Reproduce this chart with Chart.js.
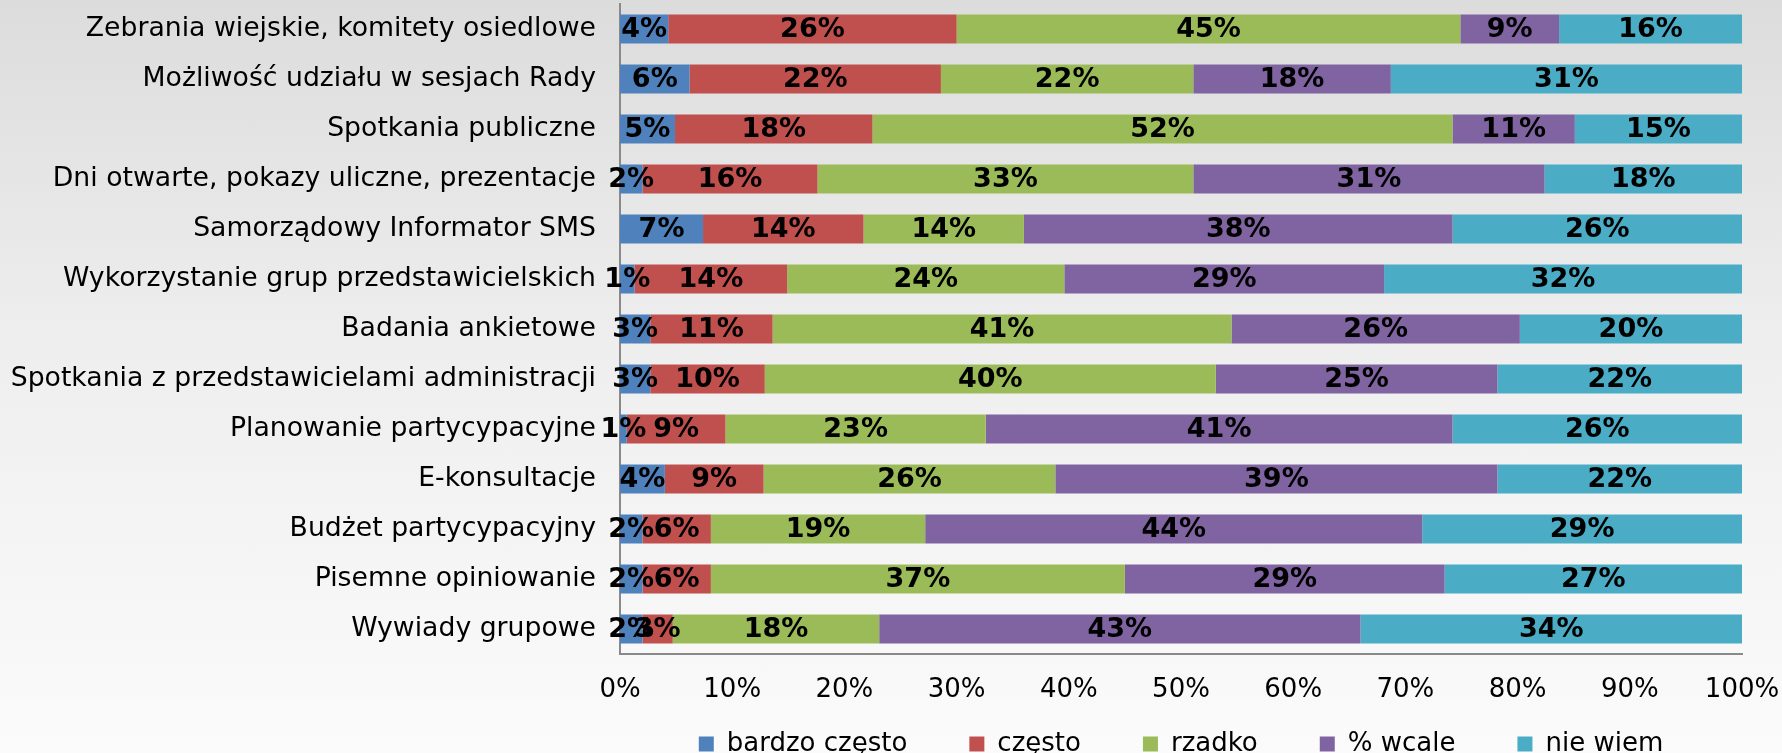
<!DOCTYPE html>
<html>
<head>
<meta charset="utf-8">
<script src="https://cdn.jsdelivr.net/npm/chart.js@4/dist/chart.umd.min.js"></script>
<style>
    html, body { margin: 0; padding: 0; overflow: hidden; height: 753px; }
    body { background: linear-gradient(to bottom, #dcdcdc 0%, #eeeeee 45%, #fbfbfb 100%); }
    #wrap { position: relative; width: 1782px; height: 767px; }
</style>
</head>
<body>
<div id="wrap"><canvas id="chart"></canvas></div>
<script>
const categories = [
    'Zebrania wiejskie, komitety osiedlowe',
    'Możliwość udziału w sesjach Rady',
    'Spotkania publiczne',
    'Dni otwarte, pokazy uliczne, prezentacje',
    'Samorządowy Informator SMS',
    'Wykorzystanie grup przedstawicielskich',
    'Badania ankietowe',
    'Spotkania z przedstawicielami administracji',
    'Planowanie partycypacyjne',
    'E-konsultacje',
    'Budżet partycypacyjny',
    'Pisemne opiniowanie',
    'Wywiady grupowe'
];

// segment shares as drawn
const bardzoCzesto = [4.3, 6.2, 4.9, 2.0, 7.4, 1.3, 2.7, 2.7, 0.6, 4.0, 2.0, 2.0, 2.0];
const czesto = [25.7, 22.4, 17.6, 15.6, 14.3, 13.6, 10.9, 10.2, 8.8, 8.8, 6.1, 6.1, 2.7];
const rzadko = [44.9, 22.5, 51.7, 33.5, 14.3, 24.7, 40.9, 40.2, 23.2, 26.0, 19.1, 36.9, 18.4];
const wcale = [8.8, 17.6, 10.9, 31.3, 38.2, 28.5, 25.7, 25.1, 41.6, 39.4, 44.3, 28.5, 42.9];
const nieWiem = [16.3, 31.3, 14.9, 17.6, 25.8, 31.9, 19.8, 21.8, 25.8, 21.8, 28.5, 26.5, 34.0];

// printed percentages
const bardzoCzestoLbl = [4, 6, 5, 2, 7, 1, 3, 3, 1, 4, 2, 2, 2];
const czestoLbl = [26, 22, 18, 16, 14, 14, 11, 10, 9, 9, 6, 6, 3];
const rzadkoLbl = [45, 22, 52, 33, 14, 24, 41, 40, 23, 26, 19, 37, 18];
const wcaleLbl = [9, 18, 11, 31, 38, 29, 26, 25, 41, 39, 44, 29, 43];
const nieWiemLbl = [16, 31, 15, 18, 26, 32, 20, 22, 26, 22, 29, 27, 34];

const seriesNames = ['bardzo często', 'często', 'rzadko', '% wcale', 'nie wiem'];
const xTicks = [0, 10, 20, 30, 40, 50, 60, 70, 80, 90, 100];

const FONT = '"DejaVu Sans", Verdana, sans-serif';

const series = [
    { label: seriesNames[0], data: bardzoCzesto, labels: bardzoCzestoLbl, color: '#4f81bd' },
    { label: seriesNames[1], data: czesto, labels: czestoLbl, color: '#c0504d' },
    { label: seriesNames[2], data: rzadko, labels: rzadkoLbl, color: '#9bbb59' },
    { label: seriesNames[3], data: wcale, labels: wcaleLbl, color: '#8064a2' },
    { label: seriesNames[4], data: nieWiem, labels: nieWiemLbl, color: '#4bacc6' }
];

// draws the percentage in the middle of every segment
const segmentLabels = {
    id: 'segmentLabels',
    afterDatasetsDraw(chart) {
        const ctx = chart.ctx;
        ctx.save();
        ctx.font = 'bold 27px ' + FONT;
        ctx.fillStyle = '#000';
        ctx.textAlign = 'center';
        ctx.textBaseline = 'middle';
        chart.data.datasets.forEach((ds, di) => {
            const meta = chart.getDatasetMeta(di);
            meta.data.forEach((bar, i) => {
                const cx = (bar.x + bar.base) / 2;
                ctx.fillText(ds.printed[i] + '%', cx, bar.y + 1);
            });
        });
        ctx.restore();
    }
};

new Chart(document.getElementById('chart'), {
    type: 'bar',
    data: {
        labels: categories,
        datasets: series.map(s => ({
            label: s.label,
            data: s.data,
            printed: s.labels,
            backgroundColor: s.color,
            borderWidth: 0,
            categoryPercentage: 1,
            barPercentage: 0.58
        }))
    },
    options: {
        indexAxis: 'y',
        responsive: true,
        maintainAspectRatio: false,
        animation: false,
        layout: { padding: { left: 0, right: 40, top: 4, bottom: 0 } },
        scales: {
            x: {
                stacked: true,
                min: 0,
                max: 100,
                grid: { display: false, drawTicks: false },
                border: { display: true, color: '#8a8a8a', width: 2 },
                afterBuildTicks(scale) {
                    scale.ticks = xTicks.map(v => ({ value: v }));
                },
                afterFit(scale) {
                    scale.height = 15;
                    scale.paddingLeft = 0;
                    scale.paddingRight = 0;
                },
                ticks: {
                    // mirrored so the labels are not clipped to the thin axis box
                    mirror: true,
                    padding: -52,
                    color: '#000',
                    font: { family: FONT, size: 26 },
                    callback: v => v + '%'
                }
            },
            y: {
                stacked: true,
                grid: { display: false, drawTicks: false },
                border: { display: true, color: '#8a8a8a', width: 2 },
                afterFit(scale) {
                    scale.width = 620;
                    scale.paddingTop = 0;
                    scale.paddingBottom = 0;
                },
                ticks: {
                    autoSkip: false,
                    padding: 24,
                    color: '#000',
                    font: { family: FONT, size: 26.7 }
                }
            }
        },
        plugins: {
            legend: {
                position: 'bottom',
                fullSize: false,
                labels: {
                    boxWidth: 15,
                    boxHeight: 15,
                    padding: 62,
                    color: '#000',
                    font: { family: FONT, size: 26 }
                }
            },
            tooltip: { enabled: false }
        }
    },
    plugins: [segmentLabels]
});
</script>
</body>
</html>
